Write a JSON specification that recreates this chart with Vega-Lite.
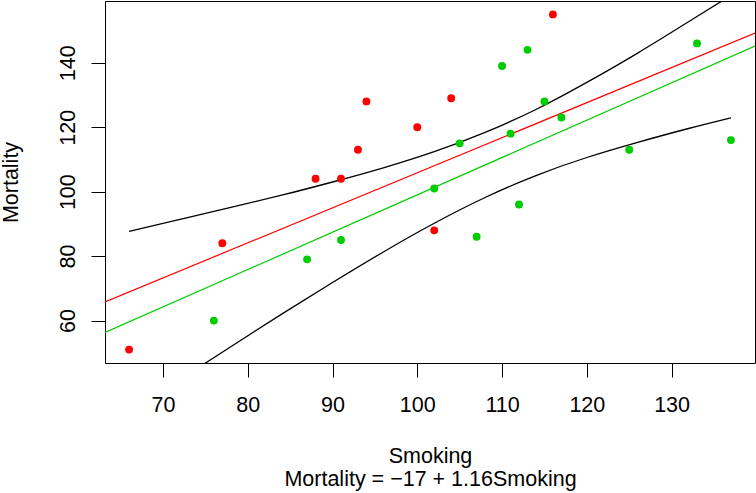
{
  "$schema": "https://vega.github.io/schema/vega-lite/v6.json",
  "width": 650,
  "height": 362,
  "autosize": {"type": "none"},
  "padding": {"left": 105, "top": 1, "right": 1, "bottom": 130},
  "background": "white",
  "config": {
    "font": "Liberation Sans",
    "view": {"stroke": "#000000", "strokeWidth": 1},
    "axis": {
      "grid": false,
      "domain": false,
      "tickColor": "#000000",
      "tickSize": 14,
      "tickWidth": 1,
      "labelColor": "#000000",
      "labelFontSize": 21.5,
      "labelFont": "Liberation Sans",
      "titleColor": "#000000",
      "titleFontSize": 21.5,
      "titleFont": "Liberation Sans",
      "titleFontWeight": "normal"
    }
  },
  "datasets": {
    "pts": [
      {"Smoking": 66, "Mortality": 51, "group": "A"},
      {"Smoking": 77, "Mortality": 84, "group": "A"},
      {"Smoking": 88, "Mortality": 104, "group": "A"},
      {"Smoking": 91, "Mortality": 104, "group": "A"},
      {"Smoking": 93, "Mortality": 113, "group": "A"},
      {"Smoking": 94, "Mortality": 128, "group": "A"},
      {"Smoking": 100, "Mortality": 120, "group": "A"},
      {"Smoking": 102, "Mortality": 88, "group": "A"},
      {"Smoking": 104, "Mortality": 129, "group": "A"},
      {"Smoking": 116, "Mortality": 155, "group": "A"},
      {"Smoking": 76, "Mortality": 60, "group": "B"},
      {"Smoking": 87, "Mortality": 79, "group": "B"},
      {"Smoking": 91, "Mortality": 85, "group": "B"},
      {"Smoking": 102, "Mortality": 101, "group": "B"},
      {"Smoking": 105, "Mortality": 115, "group": "B"},
      {"Smoking": 107, "Mortality": 86, "group": "B"},
      {"Smoking": 110, "Mortality": 139, "group": "B"},
      {"Smoking": 111, "Mortality": 118, "group": "B"},
      {"Smoking": 112, "Mortality": 96, "group": "B"},
      {"Smoking": 113, "Mortality": 144, "group": "B"},
      {"Smoking": 115, "Mortality": 128, "group": "B"},
      {"Smoking": 117, "Mortality": 123, "group": "B"},
      {"Smoking": 125, "Mortality": 113, "group": "B"},
      {"Smoking": 133, "Mortality": 146, "group": "B"},
      {"Smoking": 137, "Mortality": 116, "group": "B"}
    ],
    "fits": [
      {"Smoking": 63.16, "Mortality": 65.8, "group": "A"},
      {"Smoking": 139.84, "Mortality": 149.2, "group": "A"},
      {"Smoking": 63.16, "Mortality": 56.3, "group": "B"},
      {"Smoking": 139.84, "Mortality": 145.2, "group": "B"}
    ],
    "band": [
      {"Smoking": 66, "Mortality": 87.7, "bound": "upper"},
      {"Smoking": 72, "Mortality": 91.4, "bound": "upper"},
      {"Smoking": 78, "Mortality": 95.1, "bound": "upper"},
      {"Smoking": 84, "Mortality": 98.9, "bound": "upper"},
      {"Smoking": 90, "Mortality": 103.0, "bound": "upper"},
      {"Smoking": 96, "Mortality": 107.4, "bound": "upper"},
      {"Smoking": 102, "Mortality": 112.4, "bound": "upper"},
      {"Smoking": 108, "Mortality": 118.4, "bound": "upper"},
      {"Smoking": 114, "Mortality": 125.5, "bound": "upper"},
      {"Smoking": 120, "Mortality": 133.9, "bound": "upper"},
      {"Smoking": 126, "Mortality": 143.0, "bound": "upper"},
      {"Smoking": 132, "Mortality": 152.7, "bound": "upper"},
      {"Smoking": 137, "Mortality": 160.9, "bound": "upper"},
      {"Smoking": 66, "Mortality": 31.4, "bound": "lower"},
      {"Smoking": 72, "Mortality": 41.7, "bound": "lower"},
      {"Smoking": 78, "Mortality": 51.9, "bound": "lower"},
      {"Smoking": 84, "Mortality": 62.0, "bound": "lower"},
      {"Smoking": 90, "Mortality": 71.8, "bound": "lower"},
      {"Smoking": 96, "Mortality": 81.3, "bound": "lower"},
      {"Smoking": 102, "Mortality": 90.2, "bound": "lower"},
      {"Smoking": 108, "Mortality": 98.2, "bound": "lower"},
      {"Smoking": 114, "Mortality": 105.0, "bound": "lower"},
      {"Smoking": 120, "Mortality": 110.6, "bound": "lower"},
      {"Smoking": 126, "Mortality": 115.3, "bound": "lower"},
      {"Smoking": 132, "Mortality": 119.6, "bound": "lower"},
      {"Smoking": 137, "Mortality": 122.9, "bound": "lower"}
    ]
  },
  "encoding": {
    "x": {
      "field": "Smoking",
      "type": "quantitative",
      "scale": {"domain": [63.16, 139.84], "nice": false, "zero": false},
      "axis": {
        "values": [70, 80, 90, 100, 110, 120, 130],
        "labelPadding": 17,
        "title": ["Smoking", "Mortality = \u221217 + 1.16Smoking"],
        "titleLineHeight": 23,
        "titlePadding": 30
      }
    },
    "y": {
      "field": "Mortality",
      "type": "quantitative",
      "scale": {"domain": [46.84, 159.16], "nice": false, "zero": false},
      "axis": {
        "values": [60, 80, 100, 120, 140],
        "labelAngle": -90,
        "labelPadding": 12,
        "title": "Mortality",
        "titlePadding": 35
      }
    }
  },
  "layer": [
    {
      "data": {"name": "band"},
      "mark": {"type": "line", "color": "#000000", "strokeWidth": 1.3, "interpolate": "natural", "clip": true},
      "encoding": {"detail": {"field": "bound"}}
    },
    {
      "data": {"name": "fits"},
      "mark": {"type": "line", "strokeWidth": 1.2, "clip": true},
      "encoding": {
        "color": {"field": "group", "type": "nominal", "scale": {"domain": ["A", "B"], "range": ["#FF0000", "#00CD00"]}, "legend": null}
      }
    },
    {
      "data": {"name": "pts"},
      "mark": {"type": "circle", "size": 62, "opacity": 1, "clip": true},
      "encoding": {
        "color": {"field": "group", "type": "nominal", "scale": {"domain": ["A", "B"], "range": ["#FF0000", "#00CD00"]}, "legend": null}
      }
    }
  ]
}
